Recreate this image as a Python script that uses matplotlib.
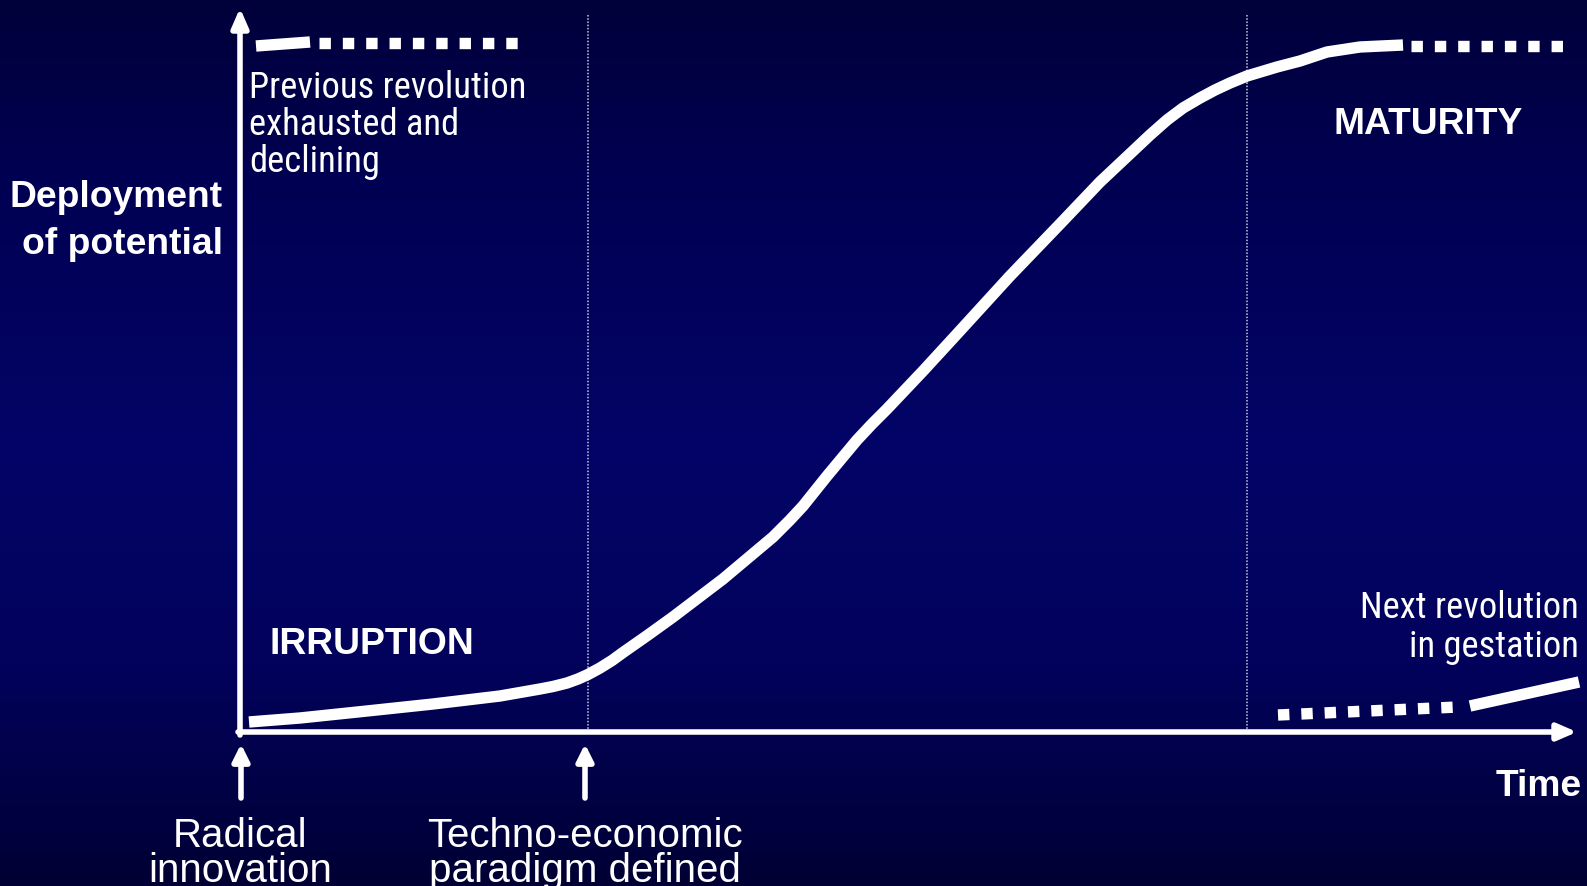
import numpy as np
import matplotlib
matplotlib.use("Agg")
import matplotlib.pyplot as plt
from matplotlib import font_manager
from matplotlib.font_manager import FontProperties
from matplotlib.colors import LinearSegmentedColormap

# ---------------- data (chart units: time along x, deployment along y) -------------
curve_t = [9, 60, 127, 193, 260, 300, 313, 327, 338, 348, 360, 372, 383, 408, 433,
           458, 483, 508, 533, 550, 563, 575, 587, 602, 617, 632, 647, 683, 717,
           770, 820, 860, 893, 910, 927, 943, 960, 975, 990, 1007, 1037, 1060,
           1087, 1120, 1163]
curve_d = [10, 14, 21, 28, 36, 43, 45.5, 49, 53, 57.5, 64, 71.5, 79.5, 97, 115,
           134, 153, 174, 195, 212, 226, 241, 256, 274, 292, 308, 323, 361, 398,
           456, 508, 550, 581, 597, 612, 624, 634, 642, 649, 656, 665, 671,
           680, 685, 687]

prev_solid_t = [16, 70]
prev_solid_d = [686, 690]
prev_dash_t = [79, 282]
prev_dash_d = [689, 689]

mat_dash_t = [1171, 1327]
mat_dash_d = [686, 686]

next_dash_t = [1038, 1218]
next_dash_d = [17, 25]
next_solid_t = [1230, 1339]
next_solid_d = [26, 50]

phase_t = [348, 1007]          # vertical dotted phase boundaries
event_t = [1, 345]             # event arrows below the time axis

# ---------------- figure ----------------
W, H = 1587, 887
X0, Y0 = 240, 733              # pixel position of the chart origin
fig = plt.figure(figsize=(W / 100, H / 100), dpi=100)

# background gradient
bg = fig.add_axes([0, 0, 1, 1])
bg.set_axis_off()
cmap = LinearSegmentedColormap.from_list(
    "bg", [(0.0, "#00003a"), (0.2, "#000052"), (0.5, "#040468"),
           (0.75, "#02025c"), (1.0, "#000034")])
grad = np.linspace(0, 1, 256).reshape(-1, 1)
bg.imshow(grad, aspect="auto", cmap=cmap, extent=[0, 1, 0, 1], origin="upper")
bg.set_xlim(0, 1)
bg.set_ylim(0, 1)

ax = fig.add_axes([0, 0, 1, 1])
ax.set_axis_off()
ax.patch.set_alpha(0)
ax.set_xlim(-X0, W - X0)
ax.set_ylim(-(H - Y0), Y0)

def P(px, py):
    return px - X0, Y0 - py

white = "white"
LW = 8.2
ALW = 4.0

# axes with arrows
ax.annotate("", xy=P(1577, 733), xytext=P(238, 733),
            arrowprops=dict(arrowstyle="-|>,head_length=1.15,head_width=0.5",
                            color=white, lw=ALW, shrinkA=0, shrinkB=0))
ax.annotate("", xy=P(240, 9), xytext=P(240, 736),
            arrowprops=dict(arrowstyle="-|>,head_length=1.15,head_width=0.5",
                            color=white, lw=ALW, shrinkA=0, shrinkB=0))

# phase boundaries
for t in phase_t:
    ax.plot([t, t], [0, 718], color="#c8c8dc", lw=1.1, ls=(0, (1, 1.1)))

# main S-curve
ax.plot(curve_t, curve_d, color=white, lw=LW, solid_capstyle="butt",
        solid_joinstyle="round")

# previous revolution
ax.plot(prev_solid_t, prev_solid_d, color=white, lw=LW, solid_capstyle="butt")
ax.plot(prev_dash_t, prev_dash_d, color=white, lw=LW, ls=(0, (1.0, 1.05)),
        dash_capstyle="butt")

# maturity continuation
ax.plot(mat_dash_t, mat_dash_d, color=white, lw=LW, ls=(0, (1.0, 1.05)),
        dash_capstyle="butt")

# next revolution
ax.plot(next_dash_t, next_dash_d, color=white, lw=LW, ls=(0, (1.0, 1.05)),
        dash_capstyle="butt")
ax.plot(next_solid_t, next_solid_d, color=white, lw=LW, solid_capstyle="butt")

# event arrows
for t in event_t:
    ax.annotate("", xy=(t, -12), xytext=(t, -66),
                arrowprops=dict(arrowstyle="-|>,head_length=1.0,head_width=0.5",
                                color=white, lw=ALW, shrinkA=0, shrinkB=0))

# ---------------- fonts ----------------
reg = ["Liberation Sans", "DejaVu Sans"]


def condensed_font():
    names = {f.name for f in font_manager.fontManager.ttflist}
    for p in ["Liberation Sans Narrow", "Arial Narrow", "Nimbus Sans Narrow",
              "Roboto Condensed", "Open Sans Condensed", "Noto Sans Condensed"]:
        if p in names:
            return FontProperties(family=[p, "DejaVu Sans"])
    for f in font_manager.fontManager.ttflist:
        if (f.stretch in ("condensed", "semi-condensed", "extra-condensed")
                and f.style == "normal" and f.weight in (400, "normal", "regular")
                and f.name in ("Roboto", "Noto Sans", "Open Sans", "Liberation Sans",
                               "Lato", "Inter")):
            return FontProperties(fname=f.fname)
    return FontProperties(family=reg)


renderer = fig.canvas.get_renderer()


def fit_text(x, y, s, fp, width_px, pitch_px, size=None, **kw):
    ls = 1.0
    t = ax.text(x, y, s, fontproperties=fp.copy(), linespacing=ls, **kw)
    if size is None:
        t.set_fontsize(24)
        for _ in range(2):
            w = t.get_window_extent(renderer).width
            t.set_fontsize(t.get_fontsize() * width_px / w)
    else:
        t.set_fontsize(size)
    n = s.count("\n") + 1
    if n > 1:
        probe = ax.text(0, 0, "lp", fontproperties=t.get_fontproperties())
        h1 = probe.get_window_extent(renderer).height
        probe.remove()
        for _ in range(2):
            h = t.get_window_extent(renderer).height
            pitch = (h - h1) / (n - 1)
            ls = ls * pitch_px / pitch
            t.set_linespacing(ls)
    return t


cond = condensed_font()
BOLD = 26.8
bold_fp = FontProperties(family=reg, weight="bold")

fit_text(*P(223, 221), "Deployment\nof potential", bold_fp, None, 47.5, size=BOLD,
         color=white, ha="right", va="center")
prev = fit_text(*P(249, 125), "Previous revolution\nexhausted and\ndeclining", cond,
                277, 37.5, color=white, ha="left", va="center")
fit_text(*P(1579, 627.5), "Next revolution\nin gestation", cond, None, 38.5,
         size=prev.get_fontsize(), color=white, ha="right", va="center")
ax.text(*P(270, 644), "IRRUPTION", color=white, fontsize=BOLD, fontweight="bold",
        family=reg, ha="left", va="center")
ax.text(*P(1333, 124), "MATURITY", color=white, fontsize=BOLD, fontweight="bold",
        family=reg, ha="left", va="center")
ax.text(*P(1582, 787), "Time", color=white, fontsize=BOLD, fontweight="bold",
        family=reg, ha="right", va="center")
reg_fp = FontProperties(family=reg)
fit_text(*P(240, 853.5), "Radical\ninnovation", reg_fp, None, 34.5, size=29,
         color=white, ha="center", va="center")
fit_text(*P(585, 853.5), "Techno-economic\nparadigm defined", reg_fp, None, 34.5,
         size=29, color=white, ha="center", va="center")

fig.savefig("out.png", dpi=100)
